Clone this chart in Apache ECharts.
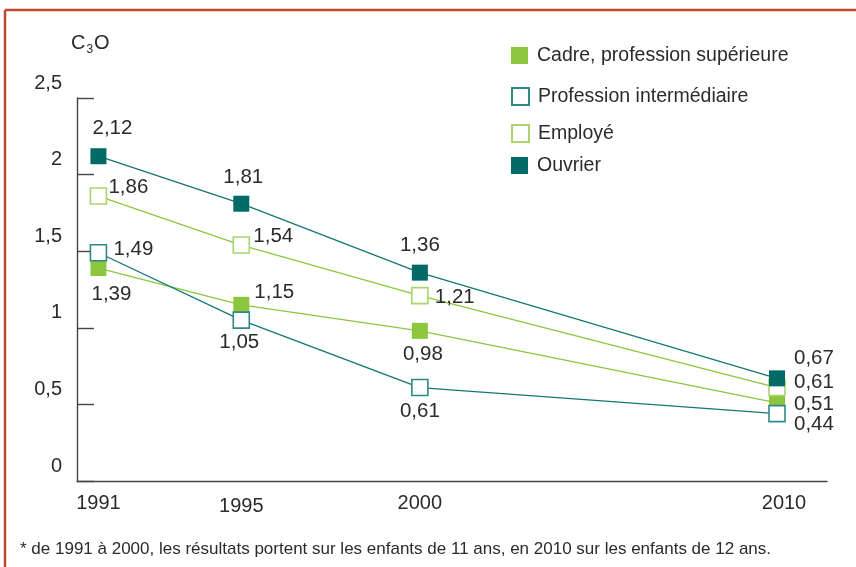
<!DOCTYPE html>
<html>
<head>
<meta charset="utf-8">
<script src="https://cdn.jsdelivr.net/npm/echarts@6/dist/echarts.min.js"></script>
<style>
html, body { margin: 0; padding: 0; background: #fff; }
#chart { width: 856px; height: 567px; }
</style>
</head>
<body>
<div id="chart"></div>
<script>
// data
var years = [1991, 1995, 2000, 2010];
var cadre = [1.39, 1.15, 0.98, 0.51];
var intermediaire = [1.49, 1.05, 0.61, 0.44];
var employe = [1.86, 1.54, 1.21, 0.61];
var ouvrier = [2.12, 1.81, 1.36, 0.67];
var names = ['Cadre, profession supérieure', 'Profession intermédiaire', 'Employé', 'Ouvrier'];
var note = '* de 1991 à 2000, les résultats portent sur les enfants de 11 ans, en 2010 sur les enfants de 12 ans.';

// label placement around each marker: [dx, dy, align]
var labCadre = [[13, 26, 'center'], [13, -12, 'left'], [3, 23, 'center'], [17, 1, 'left']];
var labInter = [[15, -3, 'left'], [-2, 22, 'center'], [0, 24, 'center'], [17, 11, 'left']];
var labEmpl = [[10, -9, 'left'], [12, -9, 'left'], [15, 2, 'left'], [17, -5, 'left']];
var labOuv = [[14, -28, 'center'], [2, -26, 'center'], [0, -27, 'center'], [17, -20, 'left']];
var legendY = [54, 95, 132, 164];

var txt = '#2b2b2b';
var font = "'Liberation Sans', Arial, sans-serif";
var teal = '#006b66', tealLine = '#137773', green = '#8cc63f', lightGreen = '#a9d46e';

function fmt(v) {
    return v.toFixed(2).replace('.', ',');
}

function makeSeries(name, vals, lab, fill, border, line) {
    return {
        name: name,
        type: 'line',
        symbol: 'rect',
        symbolSize: 16,
        lineStyle: {color: line, width: 1.3},
        itemStyle: {color: fill, borderColor: border, borderWidth: fill == '#ffffff' ? 1.6 : 0},
        label: {
            show: true,
            position: 'inside',
            fontSize: 20.5,
            fontFamily: font,
            color: txt,
            textBorderWidth: 0,
            verticalAlign: 'middle',
            formatter: function(p) { return fmt(p.value[1]); }
        },
        emphasis: {disabled: true},
        data: years.map(function(y, i) {
            return {
                value: [y, vals[i]],
                label: {offset: [lab[i][0], lab[i][1]], align: lab[i][2]}
            };
        })
    };
}

var chart = echarts.init(document.getElementById('chart'));
var option = {
    animation: false,
    textStyle: {fontFamily: font},
    title: {
        text: '{c|C}{s|3}{c|O}',
        left: 66,
        top: 25,
        textStyle: {
            fontWeight: 'normal',
            rich: {
                c: {fontSize: 20, color: txt, fontFamily: font, fontWeight: 'normal'},
                s: {fontSize: 12, color: txt, fontFamily: font, fontWeight: 'normal', padding: [14, 1, 0, 1]}
            }
        }
    },
    grid: {left: 77, right: 29, top: 98, bottom: 86},
    legend: names.map(function(n, i) {
        return {
            data: [n],
            left: 511,
            top: legendY[i] - 8.5,
            orient: 'vertical',
            icon: 'rect',
            itemWidth: 17,
            itemHeight: 17,
            padding: 0,
            selectedMode: false,
            lineStyle: {opacity: 0},
            textStyle: {fontSize: 19.5, color: txt, fontFamily: font, padding: [0, 0, 0, 4]}
        };
    }),
    xAxis: {
        type: 'value',
        min: 1990.4,
        max: 2011.4,
        axisLine: {show: true, lineStyle: {color: '#444', width: 1.4}},
        axisTick: {show: false},
        splitLine: {show: false},
        axisLabel: {
            customValues: years,
            margin: 12,
            fontSize: 20,
            color: txt,
            formatter: function(v) {
                if (v == 1995) return '{b|' + v + '}';
                if (v == 2010) return '{c|' + v + '}';
                return '{a|' + v + '}';
            },
            rich: {
                a: {fontSize: 20, color: txt, fontFamily: font},
                b: {fontSize: 20, color: txt, fontFamily: font, padding: [3, 0, 0, 0]},
                c: {fontSize: 20, color: txt, fontFamily: font, padding: [0, 0, 0, 14]}
            }
        }
    },
    yAxis: {
        type: 'value',
        min: 0,
        max: 2.5,
        interval: 0.5,
        axisLine: {show: true, lineStyle: {color: '#444', width: 1.4}},
        axisTick: {show: true, inside: true, length: 17, lineStyle: {color: '#444', width: 1.4}},
        splitLine: {show: false},
        axisLabel: {
            margin: 15,
            fontSize: 20,
            color: txt,
            verticalAlign: 'bottom',
            lineHeight: 30,
            formatter: function(v) { return String(v).replace('.', ','); }
        }
    },
    graphic: [
        {type: 'line', shape: {x1: 5, y1: 10, x2: 856, y2: 10}, style: {stroke: '#c1452f', lineWidth: 2.5}},
        {type: 'line', shape: {x1: 5, y1: 10, x2: 5, y2: 567}, style: {stroke: '#c1452f', lineWidth: 2.5}},
        {type: 'text', left: 20, top: 541, style: {text: note, fontSize: 17, fill: txt, fontFamily: font}}
    ],
    series: [
        makeSeries(names[0], cadre, labCadre, green, green, green),
        makeSeries(names[1], intermediaire, labInter, '#ffffff', '#2f8a87', tealLine),
        makeSeries(names[2], employe, labEmpl, '#ffffff', lightGreen, green),
        makeSeries(names[3], ouvrier, labOuv, teal, teal, tealLine)
    ]
};
chart.setOption(option);
</script>
</body>
</html>
